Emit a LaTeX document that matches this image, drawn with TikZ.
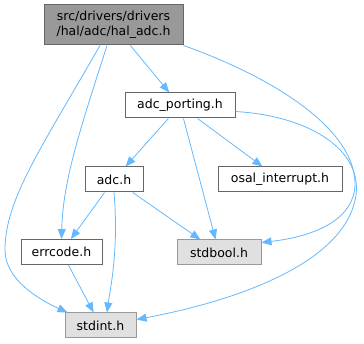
\documentclass[tikz,border=0pt]{standalone}
\usepackage{fontspec}
\setmainfont{DejaVu Sans}
\usepackage{xcolor}
\usetikzlibrary{arrows.meta,calc}
\definecolor{edgeblue}{HTML}{63B8FF}
\definecolor{boxline}{HTML}{666666}
\definecolor{sysline}{HTML}{999999}
\definecolor{sysfill}{HTML}{E0E0E0}
\definecolor{mainfill}{HTML}{999999}

\begin{document}
\begin{tikzpicture}[x=1pt, y=-1pt,
    box/.style={rectangle, draw=boxline, fill=white, line width=1pt, minimum height=25pt, inner xsep=4pt, inner ysep=0pt, align=center, font=\fontsize{12.5}{15}\selectfont},
    sysbox/.style={box, draw=sysline, fill=sysfill},
    mainbox/.style={box, fill=mainfill, minimum height=40pt},
    arrow/.style={-{Triangle[length=10pt,width=8pt,fill=edgeblue]}, draw=edgeblue, line width=0.8pt}
]
    \useasboundingbox (0,0) rectangle (364,344);

    % Layer 1
    \node[mainbox, minimum width=139pt] (haladc) at (113.5,25) {src/drivers/drivers\\/hal/adc/hal\_adc.h};

    % Layer 2
    \node[box, minimum width=110pt] (porting) at (180,105.5) {adc\_porting.h};

    % Layer 3
    \node[box, minimum width=58pt] (adc) at (114,179.5) {adc.h};
    \node[box, minimum width=124pt] (osal) at (280,179.5) {osal\_interrupt.h};

    % Layer 4
    \node[box, minimum width=81pt] (errcode) at (61.5,252) {errcode.h};
    \node[sysbox, minimum width=84pt] (stdbool) at (219,252.5) {stdbool.h};

    % Layer 5
    \node[sysbox, minimum width=71pt] (stdint) at (100.5,325.5) {stdint.h};

    % Arrows
    \draw[arrow] (haladc) -- (porting);
    \draw[arrow] ($(haladc.south)+(-6.5,0)$) .. controls (80,130) and (63,180) .. (errcode.north);
    \draw[arrow] ($(haladc.south)+(-13.5,0)$) .. controls (40,150) and (5,200) .. (5,250)
        .. controls (5,280) and (40,300) .. ($(stdint.north west)+(3,0)$);
    \draw[arrow] (haladc.south east) .. controls (275,78) and (356,130) .. (355,185)
        .. controls (354,218) and (318,236) .. ($(stdbool.north east)+(0,3)$);

    \draw[arrow] (porting) -- (adc);
    \draw[arrow] (porting) -- (osal);
    \draw[arrow] (porting) -- (stdbool);
    \draw[arrow] ($(porting.east)+(0,6)$) .. controls (310,116) and (362,150) .. (356,195)
        .. controls (346,265) and (230,302) .. ($(stdint.east)+(0,-6)$);

    \draw[arrow] (adc) -- (errcode);
    \draw[arrow] (adc) -- (stdbool);
    \draw[arrow] (adc.south) .. controls (119,250) and (110,290) .. ($(stdint.north)+(6.5,0)$);

    \draw[arrow] (errcode) -- (stdint);
\end{tikzpicture}
\end{document}
